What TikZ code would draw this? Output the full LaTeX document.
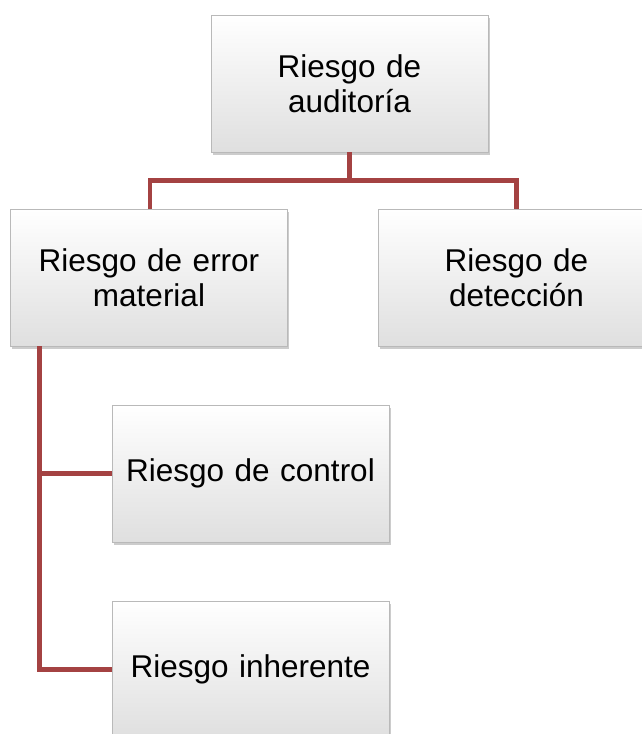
\documentclass[tikz,border=0pt]{standalone}
\usepackage{fontspec}
\setmainfont{Liberation Sans}
\usetikzlibrary{calc, positioning, shadows}
\definecolor{linkred}{RGB}{164,66,66}

\begin{document}
\begin{tikzpicture}[x=1pt, y=-1pt,
    riskbox/.style={
        shading=axis,
        top color=white,       % light top
        bottom color=gray!25,  % greyish bottom
        draw=gray!55,
        line width=0.7pt,
        drop shadow={shadow xshift=1.5pt, shadow yshift=-3pt, opacity=0.4},
        minimum width=277pt,   % exact width
        minimum height=137pt,  % exact height
        text width=265pt,
        align=center,
        font=\fontsize{31.5}{35}\selectfont
    },
    link/.style={draw=linkred, line width=4.5pt}
]
    \clip (0,0) rectangle (642,734);
    \useasboundingbox (0,0) rectangle (642,734);

    % boxes
    \node[riskbox] (audit) at (349.5,83.5) {Riesgo de\\auditoría};
    \node[riskbox] (material) at (149,277.5) {Riesgo de error\\material};
    \node[riskbox] (detect) at (516.5,277.5) {Riesgo de\\detección};
    \node[riskbox] (control) at (250.5,473.5) {Riesgo de control};
    \node[riskbox] (inherent) at (250.5,669.5) {Riesgo inherente};

    % connectors
    \coordinate (split) at ($(audit.south)+(0,28)$);
    \draw[link] (audit.south) -- (split) -| ([xshift=1pt]material.north);
    \draw[link] (split) -| (detect.north);
    \coordinate (trunk) at ([xshift=29.5pt]material.south west);
    \draw[link] (trunk) |- (control.west);
    \draw[link] (trunk) |- (inherent.west);
\end{tikzpicture}
\end{document}
